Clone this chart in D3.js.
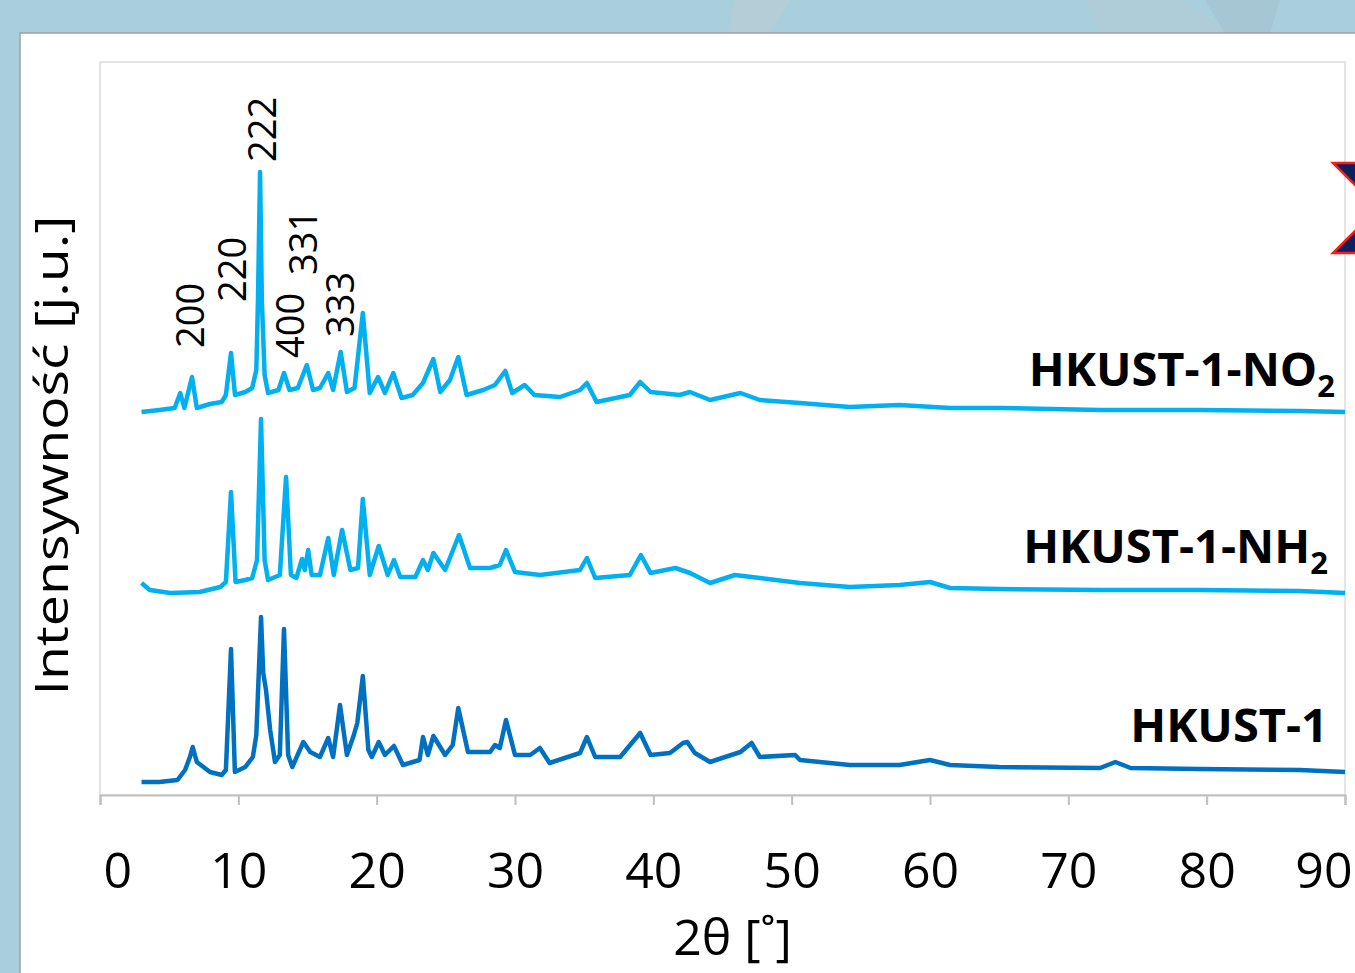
<!DOCTYPE html>
<html>
<head>
<meta charset="utf-8">
<script src="https://cdn.jsdelivr.net/npm/d3@7"></script>
<style>
	body { margin: 0; background: #a9cfdc; overflow: hidden; }
	svg { display: block; }
	text { font-family: "Open Sans", sans-serif; fill: #000; }
</style>
</head>
<body>
<svg id="plot" width="1355" height="973"></svg>
<script>
function whenDocumentLoaded(action) {
	if (document.readyState === "loading") {
		document.addEventListener("DOMContentLoaded", action);
	} else {
		action();
	}
}

// 2theta [deg] and stacked intensity [a.u.]
const TT_NO2 = [3.0, 4.3, 5.4, 5.8, 6.1, 6.65, 7.0, 7.95, 8.8, 9.1, 9.47, 9.76, 10.5, 11.0, 11.3, 11.42, 11.57, 11.7, 11.9, 12.15,
	12.9, 13.3, 13.7, 14.3, 14.95, 15.4, 15.9, 16.5, 16.85, 17.4, 17.85, 18.4, 19.0, 19.5, 20.1, 20.6, 21.2, 21.8, 22.6, 23.35,
	24.1, 24.6, 25.3, 25.9, 26.5, 27.7, 28.55, 29.3, 29.8, 30.7, 31.4, 33.25, 34.7, 35.2, 35.9, 38.3, 39.05, 39.8, 41.9, 42.65,
	44.1, 46.3, 47.7, 50.6, 54.2, 57.8, 61.45, 65, 72.3, 79.5, 86.75, 90];
const I_NO2 = [383, 385, 387, 402, 387, 418, 387, 391, 393, 400, 442, 400, 403, 407, 425, 495, 623, 495, 420, 402,
	405, 422, 405, 407, 430, 405, 407, 422, 405, 443, 403, 407, 482, 402, 418, 402, 422, 397, 400, 412,
	436, 403, 415, 438, 400, 405, 410, 424, 402, 410, 400, 398, 405, 412, 393, 400, 413, 403, 400, 403,
	395, 402, 395, 392, 388, 390, 387, 387, 385, 385, 384, 383];

const TT_NH2 = [3.0, 3.6, 5.1, 7.2, 8.7, 9.1, 9.47, 9.8, 10.5, 11.0, 11.35, 11.64, 11.9, 12.15, 13.0, 13.45, 13.8, 14.2, 14.6, 14.8,
	15.05, 15.3, 15.9, 16.5, 16.9, 17.5, 18.1, 18.65, 19.0, 19.5, 20.15, 20.8, 21.25, 21.7, 22.8, 23.35, 23.7, 24.1, 24.95, 25.95,
	26.75, 28.2, 28.9, 29.35, 30.0, 31.8, 34.7, 35.2, 35.8, 38.3, 39.1, 39.8, 41.6, 42.65, 44.1, 45.9, 47.7, 50.6, 54.2, 57.8,
	60.0, 61.45, 65, 72.3, 79.5, 86.75, 90];
const I_NH2 = [212, 205, 202, 203, 208, 213, 303, 213, 215, 217, 235, 376, 235, 215, 220, 318, 220, 217, 236, 225,
	245, 220, 220, 257, 220, 265, 225, 227, 296, 220, 249, 220, 235, 218, 218, 235, 225, 242, 225, 260,
	227, 227, 230, 245, 223, 220, 225, 237, 217, 220, 240, 222, 227, 222, 212, 220, 217, 212, 208, 210,
	213, 207, 206, 205, 205, 204, 202];

const TT_HK = [3.0, 4.3, 5.6, 6.15, 6.5, 6.7, 7.0, 7.95, 8.8, 9.1, 9.47, 9.75, 10.5, 11.05, 11.3, 11.4, 11.64, 11.8, 12.0, 12.3,
	12.65, 13.0, 13.3, 13.6, 13.9, 14.7, 15.2, 15.9, 16.5, 16.85, 17.35, 17.85, 18.35, 18.6, 19.0, 19.4, 19.65, 20.15, 20.6, 21.25,
	21.9, 23.1, 23.35, 23.7, 24.1, 24.95, 25.5, 25.9, 26.6, 28.2, 28.55, 28.9, 29.35, 30.0, 31.1, 31.8, 32.5, 34.7, 35.2, 35.8,
	37.6, 39.05, 39.8, 41.2, 42.15, 42.45, 43.0, 44.1, 46.3, 47.1, 47.7, 50.25, 50.6, 54.2, 57.8, 60.0, 61.45, 65, 72.3, 73.4,
	74.5, 79.5, 86.75, 90];
const I_HK = [13, 13, 15, 25, 38, 48, 33, 23, 20, 25, 146, 23, 28, 38, 60, 95, 178, 122, 105, 65,
	33, 40, 166, 40, 28, 53, 43, 38, 57, 38, 90, 40, 60, 72, 119, 45, 38, 53, 40, 49,
	30, 35, 58, 40, 59, 40, 50, 87, 43, 43, 50, 47, 75, 40, 40, 47, 32, 42, 58, 38,
	38, 62, 40, 42, 52, 53, 42, 33, 43, 52, 38, 40, 35, 30, 30, 35, 30, 28, 27, 33,
	27, 26, 25, 23];

const SERIES = ['HKUST-1-NO2', 'HKUST-1-NH2', 'HKUST-1'];
const SERIES_COLORS = ['#00b0f0', '#00b0f0', '#0070c0'];
const SERIES_LABEL_Y = [409, 232, 53];   // baseline of the name, in intensity units

const X_TICKS = [0, 10, 20, 30, 40, 50, 60, 70, 80, 90];

// Miller indices over the top pattern
const HKL = ['200', '220', '222', '400', '331', '333'];
const HKL_TT = [6.5, 9.55, 11.7, 13.75, 14.67, 17.35];
const HKL_Y = [447, 493, 633, 437, 520, 458];

whenDocumentLoaded(() => {
	const svg = d3.select('#plot');

	// slide background + white panel
	svg.append('rect').attr('width', 1355).attr('height', 973).attr('fill', '#a9cfdc');
	svg.append('path').attr('d', 'M735,0 L790,0 L770,33 L728,33 Z').attr('fill', '#b9cdd6').attr('opacity', 0.7);
	svg.append('path').attr('d', 'M1085,0 L1180,0 L1235,33 L1100,33 Z').attr('fill', '#b3cbd6').attr('opacity', 0.6);
	svg.append('path').attr('d', 'M1205,0 L1280,0 L1270,33 L1225,33 Z').attr('fill', '#a3bfcc').attr('opacity', 0.6);
	svg.append('rect').attr('x', 20).attr('y', 33).attr('width', 1360).attr('height', 960)
		.attr('fill', '#fff').attr('stroke', '#a0a0a0').attr('stroke-width', 1.5);

	const x = d3.scaleLinear().domain([0, 90]).range([100, 1345]);
	const y = d3.scaleLinear().domain([0, 733]).range([795, 62]);

	// plot frame
	svg.append('rect')
		.attr('x', x(0)).attr('y', y(733))
		.attr('width', x(90) - x(0)).attr('height', y(0) - y(733))
		.attr('fill', 'none').attr('stroke', '#dcdcdc').attr('stroke-width', 1.5);

	const axisX = svg.append('g')
		.attr('transform', `translate(0, ${y(0)})`)
		.call(d3.axisBottom(x).tickValues(X_TICKS).tickSize(10).tickPadding(47).tickFormat(d3.format('d')));
	axisX.select('.domain').attr('stroke', '#bfbfbf').attr('stroke-width', 2);
	axisX.selectAll('.tick line').attr('stroke', '#bfbfbf').attr('stroke-width', 2);
	axisX.selectAll('.tick text')
		.style('font-family', '"Open Sans", sans-serif')
		.style('font-size', '50px')
		.attr('fill', '#000');
	axisX.selectAll('.tick text').filter(d => d === 0).attr('text-anchor', 'start').attr('x', 3);
	axisX.selectAll('.tick text').filter(d => d === 90).attr('text-anchor', 'end').attr('x', 7);

	svg.append('text')
		.attr('x', (x(0) + x(90)) / 2 + 10).attr('y', 955)
		.attr('text-anchor', 'middle')
		.style('font-size', '50px')
		.text('2θ [˚]');

	svg.append('text')
		.attr('transform', `translate(68, ${(y(0) + y(733)) / 2 + 27}) rotate(-90)`)
		.attr('text-anchor', 'middle')
		.attr('textLength', 480).attr('lengthAdjust', 'spacingAndGlyphs')
		.style('font-size', '46px')
		.text('Intensywność [j.u.]');

	// patterns
	const line = d3.line().x(d => x(d[0])).y(d => y(d[1]));
	const allData = [d3.zip(TT_NO2, I_NO2), d3.zip(TT_NH2, I_NH2), d3.zip(TT_HK, I_HK)];
	svg.selectAll('path.xrd')
		.data(allData)
		.enter()
		.append('path')
		.attr('class', 'xrd')
		.attr('d', line)
		.attr('fill', 'none')
		.attr('stroke', (d, i) => SERIES_COLORS[i])
		.attr('stroke-width', 4.5)
		.attr('stroke-linejoin', 'round');

	// series names, right aligned at the frame
	SERIES.forEach((name, i) => {
		const t = svg.append('text')
			.attr('x', x(90) - (i === 0 ? 10 : 17)).attr('y', y(SERIES_LABEL_Y[i]))
			.attr('text-anchor', 'end')
			.style('font-size', '47px').style('font-weight', 700);
		if (name.endsWith('2')) {
			t.append('tspan').text(name.slice(0, -1));
			t.append('tspan').attr('dy', 11).style('font-size', '31px').text('2');
		} else {
			t.text(name);
		}
	});

	// hkl labels
	svg.selectAll('text.hkl')
		.data(HKL)
		.enter()
		.append('text')
		.attr('class', 'hkl')
		.attr('transform', (d, i) => `translate(${x(HKL_TT[i]) + 14}, ${y(HKL_Y[i])}) rotate(-90)`)
		.style('font-size', '38px')
		.text(d => d);

	// the bit of slide decoration cut off at the right edge
	svg.append('path').attr('d', 'M1333,163 L1360,163 L1360,190 Z')
		.attr('fill', '#0d1f5c').attr('stroke', '#ff1a1a').attr('stroke-width', 2.5);
	svg.append('path').attr('d', 'M1333,253 L1360,253 L1360,226 Z')
		.attr('fill', '#0d1f5c').attr('stroke', '#ff1a1a').attr('stroke-width', 2.5);
});
</script>
</body>
</html>
